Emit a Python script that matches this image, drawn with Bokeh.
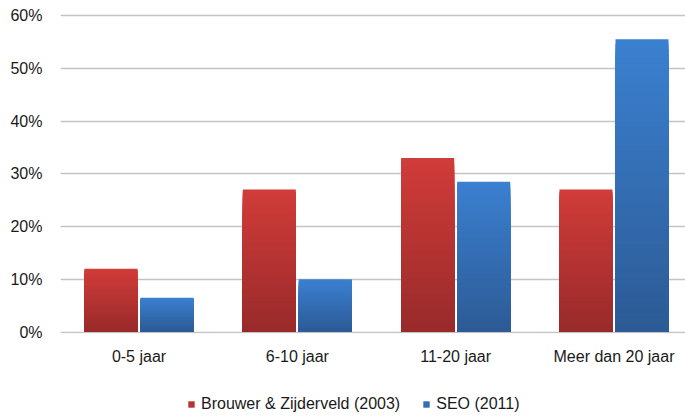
from bokeh.plotting import figure
from bokeh.models import (ColumnDataSource, FixedTicker, NumeralTickFormatter,
                          Legend, LegendItem, Range1d)
from bokeh.layouts import column
from bokeh.embed import file_html
from bokeh.resources import INLINE

categories = ["0-5 jaar", "6-10 jaar", "11-20 jaar", "Meer dan 20 jaar"]
brouwer = [0.12, 0.27, 0.33, 0.27]
seo = [0.065, 0.10, 0.285, 0.555]
series_names = ["Brouwer & Zijderveld (2003)", "SEO (2011)"]
y_ticks = [0.0, 0.1, 0.2, 0.3, 0.4, 0.5, 0.6]

FONT = "Liberation Sans"
RED_TOP, RED_BOT = (0xD0, 0x3C, 0x39), (0x98, 0x2A, 0x2A)
BLUE_TOP, BLUE_BOT = (0x3B, 0x80, 0xD0), (0x2C, 0x5A, 0x94)


def mix(c1, c2, t):
    r = [round(a + (b - a) * t) for a, b in zip(c1, c2)]
    return "#%02x%02x%02x" % tuple(r)


p = figure(width=685, height=385, output_backend="svg", toolbar_location=None,
           x_range=Range1d(-0.4958, 3.4516), y_range=Range1d(-0.00284, 0.6057),
           min_border_left=60, min_border_right=0, min_border_top=12,
           min_border_bottom=52)
p.outline_line_color = None
p.background_fill_color = "white"
p.border_fill_color = "white"

bar_w = 0.335
offset = 0.177
N = 60


def gradient_bars(values, shift, top_col, bot_col):
    left, right, bottom, top, color = [], [], [], [], []
    for k in range(N, 0, -1):
        t = k / N
        for i, v in enumerate(values):
            left.append(i + shift - bar_w / 2)
            right.append(i + shift + bar_w / 2)
            bottom.append(0)
            top.append(v * t)
            color.append(mix(bot_col, top_col, t))
    src = ColumnDataSource(dict(left=left, right=right, bottom=bottom, top=top, color=color))
    p.quad(left="left", right="right", bottom="bottom", top="top", fill_color="color",
           line_color=None, source=src)


gradient_bars(brouwer, -offset, RED_TOP, RED_BOT)
gradient_bars(seo, offset, BLUE_TOP, BLUE_BOT)

# axes
p.xaxis.ticker = FixedTicker(ticks=list(range(len(categories))))
p.xaxis.major_label_overrides = {i: c for i, c in enumerate(categories)}
p.yaxis.ticker = FixedTicker(ticks=y_ticks)
p.yaxis.formatter = NumeralTickFormatter(format="0%")

for ax in (p.xaxis, p.yaxis):
    ax.axis_line_color = None
    ax.major_tick_line_color = None
    ax.minor_tick_line_color = None
    ax.major_tick_out = 0
    ax.major_tick_in = 0
    ax.major_label_text_font = FONT
    ax.major_label_text_font_size = "16px"
    ax.major_label_text_color = "#1a1a1a"
p.yaxis.major_label_standoff = 18
p.xaxis.major_label_standoff = 14

p.xgrid.grid_line_color = None
p.ygrid.grid_line_color = "#c4c4c4"
p.ygrid.grid_line_width = 1.6

# legend strip underneath (its frame is aligned with the main frame)
lg = figure(width=685, height=34, output_backend="svg", toolbar_location=None,
            x_range=Range1d(0, 1), y_range=Range1d(0, 1),
            x_axis_location=None, y_axis_location=None,
            min_border_left=0, min_border_right=0, min_border_top=0, min_border_bottom=0)
lg.outline_line_color = None
lg.xgrid.grid_line_color = None
lg.ygrid.grid_line_color = None
# legend-only swatches, placed outside the visible range
swatch = ColumnDataSource(dict(left=[5], right=[6], bottom=[5], top=[6]))
r_red = lg.quad(left="left", right="right", bottom="bottom", top="top", source=swatch,
                fill_color=mix(RED_BOT, RED_TOP, 0.55), line_color=None)
r_blue = lg.quad(left="left", right="right", bottom="bottom", top="top", source=swatch,
                 fill_color=mix(BLUE_BOT, BLUE_TOP, 0.55), line_color=None)

legend = Legend(items=[LegendItem(label=series_names[0], renderers=[r_red]),
                       LegendItem(label=series_names[1], renderers=[r_blue])],
                orientation="horizontal", location=(127, 6),
                glyph_width=8, glyph_height=8, label_standoff=6, spacing=22,
                padding=0, margin=0, border_line_color=None,
                background_fill_alpha=0,
                label_text_font=FONT, label_text_font_size="16px",
                label_text_color="#1a1a1a", label_height=16)
lg.add_layout(legend, "center")

layout = column(p, lg, spacing=0)
open("out.html", "w").write(file_html(layout, INLINE))
